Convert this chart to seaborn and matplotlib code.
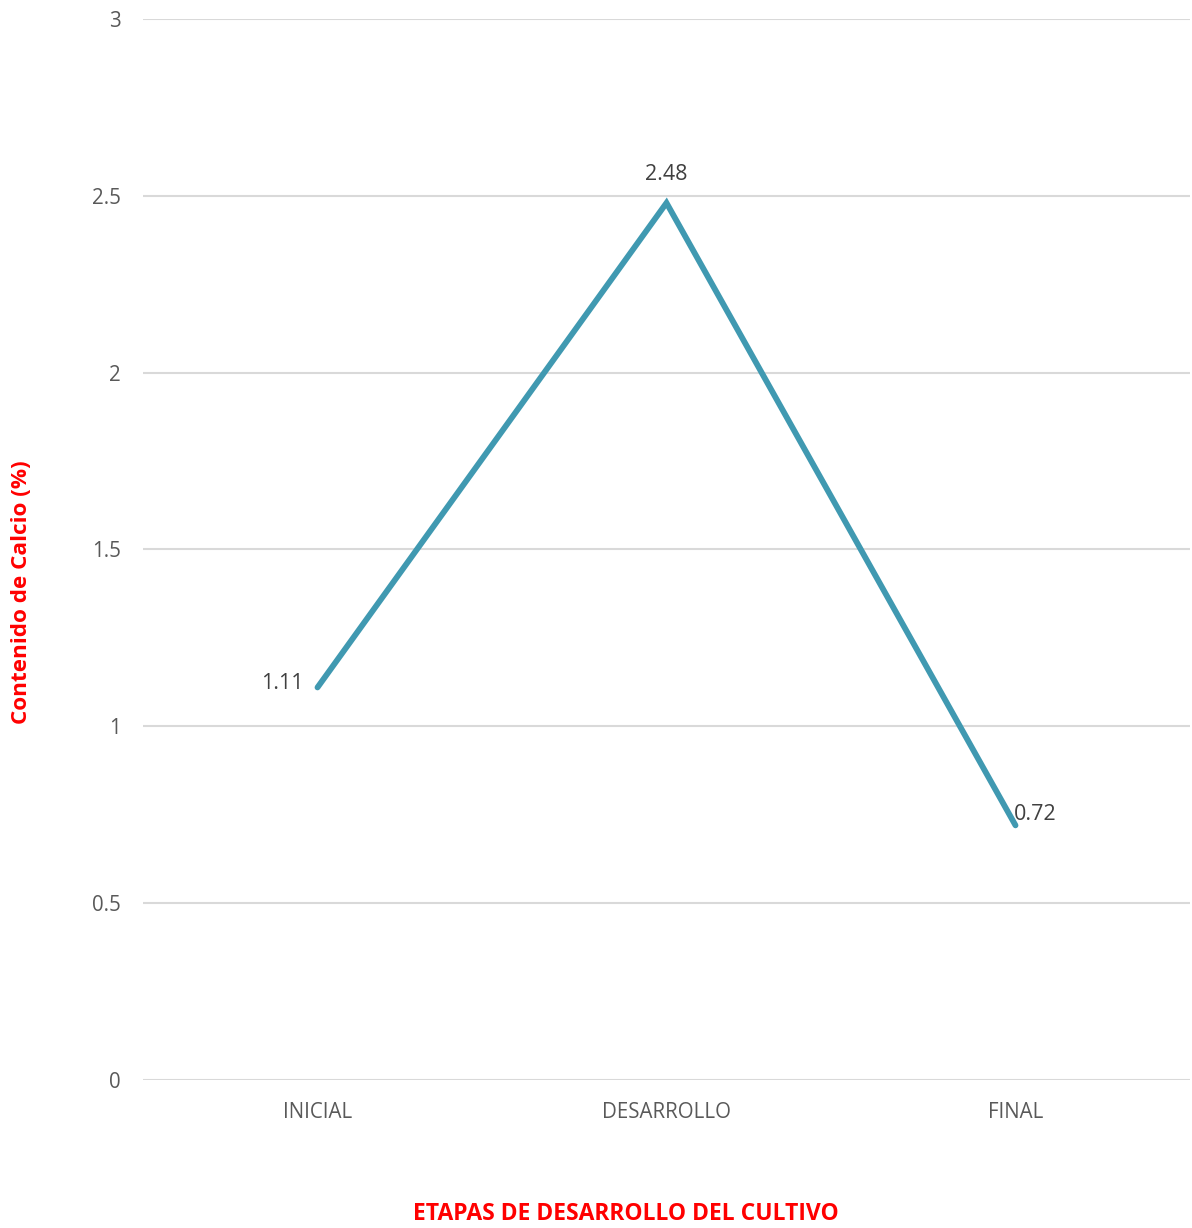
import matplotlib
matplotlib.use("Agg")
import matplotlib.pyplot as plt
import seaborn as sns
import pandas as pd

# Calcium content per crop development stage
etapas = ["INICIAL", "DESARROLLO", "FINAL"]
calcio = [1.11, 2.48, 0.72]
y_ticks = [0, 0.5, 1, 1.5, 2, 2.5, 3]
y_tick_labels = ["0", "0.5", "1", "1.5", "2", "2.5", "3"]

sns.set_theme(style="whitegrid")
plt.rcParams["font.family"] = ["Open Sans", "DejaVu Sans"]

df = pd.DataFrame({"etapa": etapas, "calcio": calcio, "pos": range(len(etapas))})

W, H = 1192, 1228
fig = plt.figure(figsize=(W / 100, H / 100), dpi=100)
ax = fig.add_axes([143 / W, 1 - 1080 / H, (1190 - 143) / W, (1080 - 19) / H])

sns.lineplot(data=df, x="pos", y="calcio", ax=ax, color="#4099B1",
             linewidth=4.2, solid_capstyle="round", solid_joinstyle="miter")

ax.set_xlim(-0.5, len(etapas) - 0.5)
ax.set_ylim(0, 3)
ax.set_xticks(df["pos"])
ax.set_xticklabels(etapas)
ax.set_yticks(y_ticks)
ax.set_yticklabels(y_tick_labels)
ax.tick_params(axis="both", labelsize=14.8, colors="#595959", length=0)
ax.tick_params(axis="x", pad=16)
ax.tick_params(axis="y", pad=16)
ax.grid(axis="x", visible=False)
ax.grid(axis="y", color="#D9D9D9", linewidth=1.5)
for s in ax.spines.values():
    s.set_visible(False)
ax.set_xlabel("")
ax.set_ylabel("")

# data labels
label_style = dict(fontsize=15.5, color="#404040")
ax.annotate(f"{calcio[0]:.2f}", (0, calcio[0]), xytext=(-10, 3),
            textcoords="offset points", ha="right", va="center", **label_style)
ax.annotate(f"{calcio[1]:.2f}", (1, calcio[1]), xytext=(0, 13),
            textcoords="offset points", ha="center", va="bottom", **label_style)
ax.annotate(f"{calcio[2]:.2f}", (2, calcio[2]), xytext=(-1, 8),
            textcoords="offset points", ha="left", va="center", **label_style)

fig.text(626 / W, 1 - 1214 / H, "ETAPAS DE DESARROLLO DEL CULTIVO",
         ha="center", va="center", fontsize=16.5, fontweight="bold", color="#FF0000")
fig.text(22 / W, 1 - 592 / H, "Contenido de Calcio (%)", rotation=90,
         ha="center", va="center", fontsize=16.2, fontweight="bold", color="#FF0000")

fig.savefig("out.png", dpi=100, facecolor="white")
